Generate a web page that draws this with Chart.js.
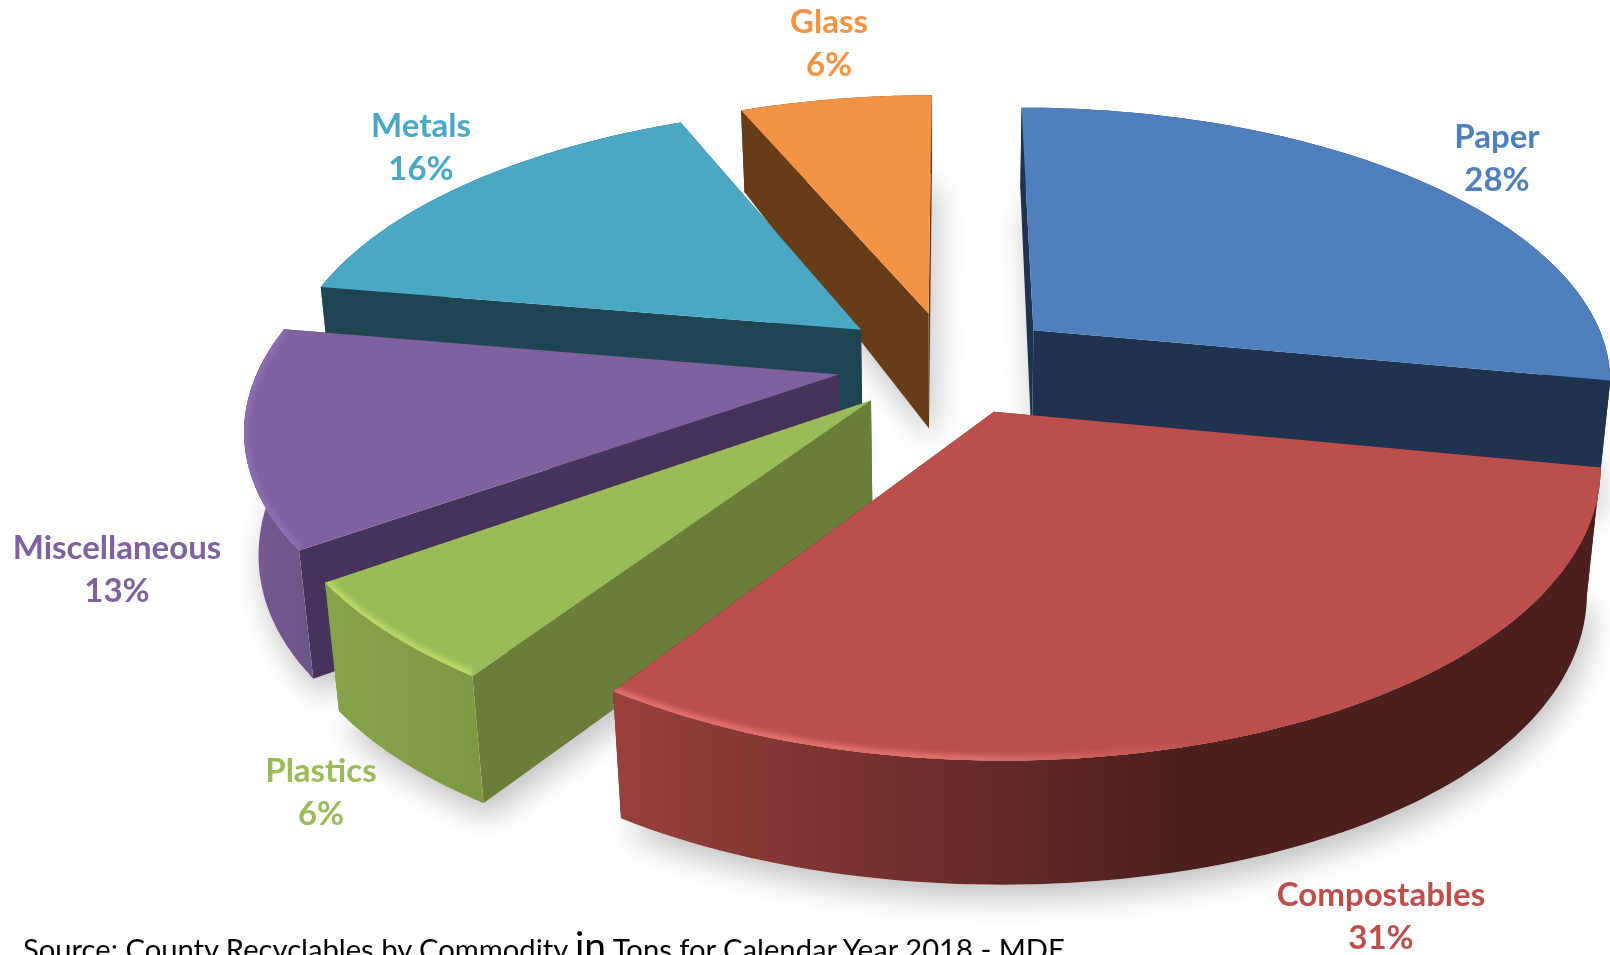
<!DOCTYPE html>
<html>
<head>
<meta charset="utf-8">
<title>County Recyclables by Commodity</title>
<script src="https://cdn.jsdelivr.net/npm/chart.js@4/dist/chart.umd.min.js"></script>
<style>
    html, body { margin: 0; padding: 0; background: #fff; overflow: hidden; }
    #wrap { position: relative; width: 1610px; height: 955px; overflow: hidden; }
    #source { position: absolute; left: 23px; top: 932px; font: 29.2px/34px Lato, sans-serif; color: #000; white-space: nowrap; }
    #source span { font-size: 39px; line-height: 20px; }
</style>
</head>
<body>
<div id="wrap">
    <canvas id="pieChart" width="1610" height="955"></canvas>
    <div id="source">Source: County Recyclables by Commodity <span>in</span> Tons for Calendar Year 2018 - MDE</div>
</div>
<script>
// ===== DATA =====
const categories = ['Paper', 'Compostables', 'Plastics', 'Miscellaneous', 'Metals', 'Glass'];
// shares, the printed labels are these rounded
const percentages = [28, 31.4, 5.8, 12.5, 15.9, 6.4];

// ===== STYLES =====
const topColors = ['#4f7fbc', '#bc4f4c', '#9bbb59', '#7f61a0', '#4aa8c5', '#f59345'];
const sideColors = ['#1f3250', '#5a2321', '#6a7e3a', '#46325a', '#1f4553', '#663d18'];
const rimStart = ['#1f3250', '#98403c', '#87a34a', '#75598f', '#1f4553', '#663d18'];
const rimEnd = ['#1f3250', '#4b1f1d', '#7e9842', '#6b5488', '#1f4553', '#663d18'];
const glowColors = [null, '#e2716d', '#b9da68', '#8b6fb2', null, null];
const sliceOffsets = [83, 83, 83, 85, 87, 83];
const labelSpots = [[1497, 137], [1381, 895], [321, 771], [117, 548], [421, 126], [829, 22]];
const labelLineGap = 43;

// ground plane -> screen, fitted to the tilted view of the picture
const view = { cx: 950, cy: 362.6, rx: 578, ry: 270.6, persp: 0.17, sink: 0.02 };

function wallDepth(v) {
    return 122 + 8.1 * v - 15.7 * v * v;
}

function project(u, v, z) {
    const den = 1 - view.persp * v + view.sink * z;
    return { x: view.cx + u * view.rx / den, y: view.cy + (view.ry * v + wallDepth(v) * z) / den };
}

function tracePoly(ctx, pts) {
    ctx.beginPath();
    pts.forEach((p, i) => (i ? ctx.lineTo(p.x, p.y) : ctx.moveTo(p.x, p.y)));
    ctx.closePath();
}

// geometry of one slice, taken from the arc element the library laid out
function sliceShape(arc) {
    const { startAngle, endAngle, outerRadius } = arc.getProps(['startAngle', 'endAngle', 'outerRadius'], true);
    const mid = (startAngle + endAngle) / 2;
    const shift = arc.options.offset / outerRadius;
    const ax = Math.cos(mid) * shift;
    const ay = Math.sin(mid) * shift;
    const steps = 80;
    const rim = [];
    for (let i = 0; i <= steps; i++) {
        const a = startAngle + (endAngle - startAngle) * i / steps;
        rim.push([ax + Math.cos(a), ay + Math.sin(a)]);
    }
    return { ax, ay, rim };
}

function at(shape, z) {
    return shape.rim.map(p => project(p[0], p[1], z));
}

// ===== 3D PIE PLUGIN =====
const pie3d = {
    id: 'pie3d',
    beforeDatasetsDraw(chart) {
        const ctx = chart.ctx;
        const arcs = chart.getDatasetMeta(0).data;
        const shapes = arcs.map(sliceShape);
        const order = shapes.map((s, i) => i).sort((a, b) => shapes[a].ay - shapes[b].ay);

        // soft shadows on the white only
        ctx.save();
        ctx.shadowColor = 'rgba(0,0,0,0.24)';
        ctx.shadowBlur = 30;
        ctx.shadowOffsetX = 5;
        ctx.shadowOffsetY = 14;
        ctx.fillStyle = '#fff';
        shapes.forEach(s => {
            tracePoly(ctx, [project(s.ax, s.ay, 1), ...at(s, 1)]);
            ctx.fill();
        });
        ctx.restore();

        order.forEach(i => {
            const s = shapes[i];
            const top = at(s, 0);
            const low = at(s, 1);
            const a0 = project(s.ax, s.ay, 0);
            const a1 = project(s.ax, s.ay, 1);

            // radial walls
            ctx.fillStyle = sideColors[i];
            [[top[0], low[0]], [top[top.length - 1], low[low.length - 1]]].forEach(e => {
                tracePoly(ctx, [a0, e[0], e[1], a1]);
                ctx.fill();
            });

            // outer wall
            const xs = low.map(p => p.x);
            const grad = ctx.createLinearGradient(Math.min(...xs), 0, Math.max(...xs), 0);
            grad.addColorStop(0, rimStart[i]);
            grad.addColorStop(i === 1 ? 0.58 : 1, rimEnd[i]);
            grad.addColorStop(1, rimEnd[i]);
            ctx.fillStyle = grad;
            tracePoly(ctx, [...top, ...low.slice().reverse()]);
            ctx.fill();

            // top face
            ctx.fillStyle = topColors[i];
            tracePoly(ctx, [a0, ...top]);
            ctx.fill();

            // bevel along the near rim
            if (glowColors[i]) {
                const tx = top.map(p => p.x);
                const fade = ctx.createLinearGradient(Math.min(...tx), 0, Math.max(...tx), 0);
                fade.addColorStop(0, glowColors[i]);
                fade.addColorStop(i === 1 ? 0.35 : 1, glowColors[i]);
                fade.addColorStop(i === 1 ? 0.6 : 1, topColors[i]);
                fade.addColorStop(1, topColors[i]);
                ctx.save();
                tracePoly(ctx, [a0, ...top]);
                ctx.clip();
                ctx.filter = 'blur(2.5px)';
                ctx.strokeStyle = fade;
                ctx.lineWidth = 10;
                ctx.beginPath();
                top.forEach((p, k) => (k ? ctx.lineTo(p.x, p.y) : ctx.moveTo(p.x, p.y)));
                ctx.stroke();
                ctx.restore();
            }
        });

        // labels
        ctx.save();
        ctx.textAlign = 'center';
        ctx.textBaseline = 'middle';
        ctx.font = 'bold 33px Lato, sans-serif';
        categories.forEach((name, i) => {
            ctx.fillStyle = topColors[i];
            ctx.fillText(name, labelSpots[i][0], labelSpots[i][1]);
            ctx.fillText(Math.round(percentages[i]) + '%', labelSpots[i][0], labelSpots[i][1] + labelLineGap);
        });
        ctx.restore();
        return false;
    }
};

// ===== CHART =====
new Chart(document.getElementById('pieChart').getContext('2d'), {
    type: 'pie',
    data: {
        labels: categories,
        datasets: [{
            data: percentages,
            backgroundColor: topColors,
            borderWidth: 0,
            offset: sliceOffsets
        }]
    },
    options: {
        responsive: false,
        animation: false,
        rotation: 0,
        layout: { padding: 0 },
        plugins: { legend: { display: false }, tooltip: { enabled: false } }
    },
    plugins: [pie3d]
});
</script>
</body>
</html>
